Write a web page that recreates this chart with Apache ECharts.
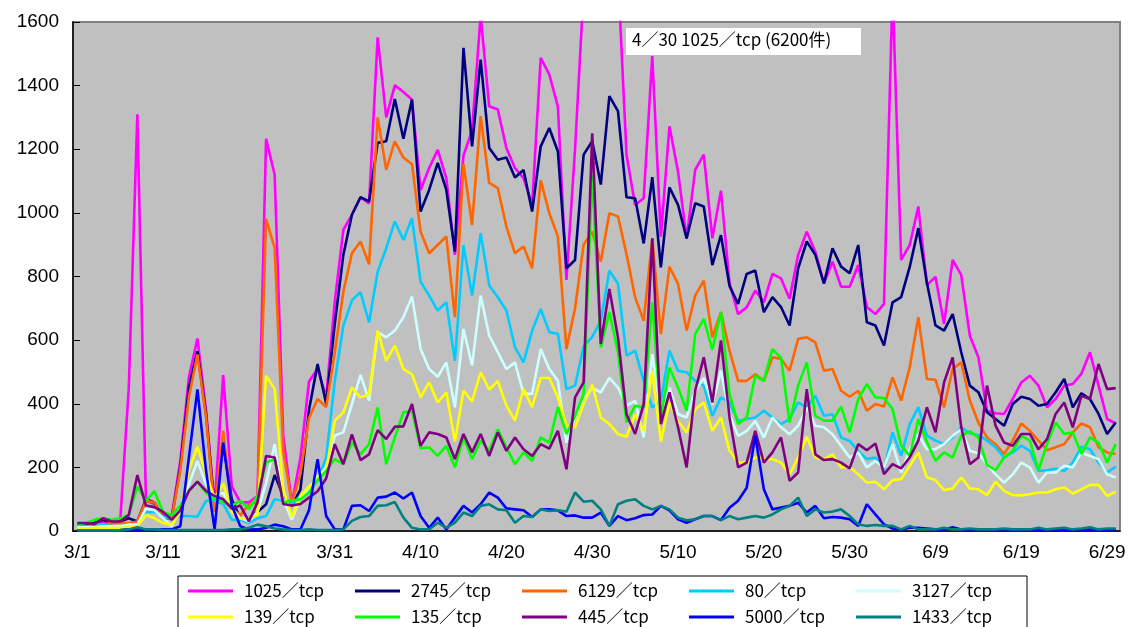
<!DOCTYPE html>
<html>
<head>
<meta charset="utf-8">
<script src="https://cdn.jsdelivr.net/npm/echarts@6/dist/echarts.min.js"></script>
<style>
  html, body { margin: 0; padding: 0; background: #fff; }
  #chart { width: 1131px; height: 627px; }
</style>
</head>
<body>
<div id="chart"></div>
<script>
// Daily counts per destination port, 3/1 – 6/30
const months = [[3, 31], [4, 30], [5, 31], [6, 30]];
const dates = [];
months.forEach(([m, n]) => { for (let d = 1; d <= n; d++) dates.push(m + '/' + d); });

const portNames = ['1025／tcp', '2745／tcp', '6129／tcp', '80／tcp', '3127／tcp',
                   '139／tcp', '135／tcp', '445／tcp', '5000／tcp', '1433／tcp'];

const tcp1025 = [
  20, 20, 25, 30, 25, 30, 450, 1310, 95, 85,
  50, 45, 220, 483, 605, 380, 80, 490, 140, 90,
  90, 110, 1233, 1120, 300, 85, 230, 470, 510, 420,
  720, 947, 994, 1049, 1030, 1552, 1300, 1401, 1380, 1356,
  1072, 1141, 1198, 1109, 868, 1180, 1260, 1620, 1335, 1325,
  1204, 1141, 1109, 1025, 1487, 1435, 1335, 789, 1200, 1700,
  6200, 2400, 1900, 1750, 1183, 1025, 1046, 1493, 925, 1272,
  1130, 920, 1135, 1183, 920, 1070, 780, 682, 703, 756,
  719, 808, 794, 730, 868, 941, 878, 778, 847, 768,
  768, 836, 704, 682, 714, 1700, 852, 899, 1020, 773,
  799, 651, 852, 805, 614, 546, 378, 370, 368, 415,
  467, 488, 457, 389, 415, 457, 462, 494, 562, 457,
  352, 338
];
const tcp2745 = [
  20, 20, 25, 35, 25, 30, 40, 30, 100, 90,
  40, 40, 200, 450, 565, 368, 70, 275, 100, 40,
  40, 60, 84, 176, 110, 80, 130, 380, 525, 400,
  650, 868, 994, 1049, 1036, 1220, 1225, 1358, 1233, 1356,
  1004, 1072, 1157, 1072, 878, 1519, 1209, 1482, 1204, 1167,
  1174, 1111, 1135, 1004, 1209, 1267, 1193, 826, 852, 1183,
  1225, 1089, 1367, 1320, 1049, 1046, 904, 1112, 829, 1080,
  1025, 920, 1030, 1020, 836, 930, 770, 714, 808, 819,
  688, 735, 704, 646, 826, 910, 868, 778, 889, 831,
  810, 899, 656, 646, 583, 719, 735, 830, 952, 780,
  646, 630, 682, 562, 457, 436, 373, 352, 331, 399,
  422, 415, 394, 399, 436, 478, 389, 433, 415, 368,
  305, 341
];
const tcp6129 = [
  15, 15, 20, 20, 25, 25, 25, 30, 95, 90,
  40, 40, 190, 420, 555, 360, 60, 315, 70, 50,
  84, 90, 981, 889, 250, 85, 180, 355, 415, 390,
  560, 752, 873, 910, 838, 1300, 1136, 1225, 1174, 1153,
  941, 873, 899, 926, 672, 1154, 962, 1304, 1094, 1078,
  957, 873, 894, 826, 1102, 999, 926, 572, 700, 900,
  941, 847, 999, 989, 870, 735, 661, 920, 619, 830,
  777, 630, 740, 787, 609, 688, 567, 472, 472, 493,
  472, 546, 541, 504, 604, 609, 593, 504, 509, 441,
  422, 441, 378, 399, 391, 483, 410, 515, 672, 478,
  475, 389, 509, 530, 410, 341, 294, 273, 242, 284,
  338, 315, 284, 254, 263, 273, 310, 338, 326, 263,
  247, 242
];
const tcp80 = [
  15, 15, 15, 20, 15, 15, 20, 20, 60, 60,
  45, 40, 47, 47, 45, 95, 95, 85, 35, 35,
  25, 40, 47, 100, 95, 85, 110, 130, 160, 230,
  470, 645, 725, 751, 656, 815, 889, 973, 915, 983,
  784, 740, 693, 719, 535, 899, 740, 936, 772, 735,
  693, 577, 530, 630, 698, 625, 620, 446, 457, 580,
  610, 661, 819, 777, 551, 567, 472, 388, 409, 567,
  504, 499, 472, 457, 362, 420, 404, 346, 352, 357,
  378, 357, 336, 352, 404, 388, 425, 362, 367, 294,
  283, 252, 226, 231, 194, 310, 236, 336, 389, 300,
  284, 273, 294, 326, 307, 302, 284, 263, 231, 247,
  268, 252, 189, 191, 196, 189, 215, 265, 257, 215,
  184, 202
];
const tcp3127 = [
  12, 12, 12, 15, 15, 15, 20, 20, 70, 65,
  40, 15, 70, 147, 220, 147, 110, 120, 70, 40,
  30, 60, 150, 273, 100, 35, 105, 135, 170, 200,
  300, 310, 399, 491, 410, 625, 609, 630, 672, 737,
  572, 509, 485, 530, 389, 635, 520, 740, 614, 562,
  509, 530, 431, 431, 572, 509, 472, 278, 357, 410,
  450, 436, 481, 451, 394, 409, 294, 556, 367, 451,
  367, 357, 441, 481, 399, 504, 367, 299, 315, 346,
  294, 357, 326, 304, 331, 388, 331, 326, 304, 268,
  231, 247, 200, 220, 200, 273, 184, 257, 304, 257,
  257, 273, 299, 320, 252, 244, 210, 178, 152, 178,
  215, 200, 152, 184, 184, 205, 200, 247, 236, 226,
  178, 168
];
const tcp139 = [
  8, 8, 10, 10, 10, 10, 12, 15, 50, 40,
  25, 20, 60, 190, 265, 180, 100, 150, 60, 40,
  40, 50, 488, 446, 130, 45, 110, 140, 165, 190,
  347, 373, 451, 420, 430, 630, 535, 583, 509, 493,
  420, 467, 404, 436, 281, 441, 407, 499, 444, 472,
  394, 347, 446, 389, 481, 481, 420, 331, 326, 400,
  460, 357, 336, 305, 296, 367, 315, 504, 281, 404,
  346, 310, 383, 404, 315, 357, 252, 215, 215, 231,
  226, 226, 215, 178, 231, 296, 231, 226, 241, 200,
  202, 178, 152, 155, 131, 160, 163, 205, 247, 168,
  160, 128, 134, 168, 134, 131, 113, 155, 126, 113,
  112, 116, 121, 121, 131, 137, 118, 131, 145, 145,
  110, 124
];
const tcp135 = [
  20, 25, 35, 40, 35, 40, 50, 139, 95, 125,
  60, 50, 80, 126, 155, 120, 100, 90, 80, 95,
  70, 110, 215, 226, 90, 95, 100, 120, 160, 189,
  226, 210, 278, 241, 273, 388, 210, 294, 373, 378,
  260, 263, 236, 268, 200, 294, 226, 284, 252, 320,
  263, 210, 247, 221, 294, 278, 389, 305, 362, 430,
  1120, 577, 688, 562, 341, 394, 388, 719, 357, 514,
  451, 378, 619, 667, 570, 688, 430, 336, 357, 488,
  472, 572, 544, 341, 457, 530, 362, 347, 347, 391,
  310, 415, 462, 420, 418, 383, 268, 236, 352, 280,
  221, 247, 231, 299, 313, 294, 208, 191, 231, 252,
  299, 284, 191, 273, 341, 305, 310, 242, 294, 278,
  215, 273
];
const tcp445 = [
  25, 25, 22, 40, 30, 30, 50, 176, 80, 75,
  60, 35, 65, 126, 155, 126, 110, 100, 70, 80,
  30, 90, 236, 231, 85, 80, 85, 105, 125, 165,
  273, 210, 304, 223, 241, 317, 289, 328, 329, 399,
  268, 310, 305, 294, 226, 305, 247, 305, 236, 310,
  252, 294, 257, 236, 273, 259, 315, 194, 420, 467,
  1250, 588, 761, 609, 367, 305, 399, 920, 336, 436,
  326, 200, 441, 546, 404, 599, 357, 200, 215, 315,
  215, 247, 294, 158, 184, 446, 241, 223, 226, 215,
  197, 273, 254, 275, 179, 210, 197, 231, 284, 389,
  310, 467, 546, 326, 210, 231, 457, 331, 278, 268,
  305, 305, 257, 289, 368, 404, 326, 425, 415, 525,
  446, 449
];
const tcp5000 = [
  2, 2, 2, 2, 2, 3, 5, 5, 5, 3,
  5, 5, 15, 230, 445, 190, 5, 278, 80, 15,
  5, 5, 10, 20, 15, 5, 5, 65, 226, 47,
  5, 5, 79, 81, 63, 105, 108, 121, 102, 121,
  47, 10, 42, 5, 42, 79, 58, 84, 121, 105,
  71, 68, 65, 44, 68, 68, 65, 47, 49, 42,
  42, 58, 16, 47, 34, 40, 50, 52, 79, 65,
  37, 26, 37, 47, 47, 34, 73, 95, 136, 299,
  131, 68, 74, 79, 89, 58, 79, 40, 44, 42,
  37, 16, 84, 52, 21, 8, 5, 10, 10, 8,
  5, 5, 12, 5, 5, 5, 3, 5, 5, 3,
  5, 5, 3, 5, 5, 3, 5, 5, 5, 3,
  5, 5
];
const tcp1433 = [
  2, 2, 2, 2, 2, 2, 5, 12, 5, 5,
  3, 3, 3, 3, 3, 3, 3, 3, 5, 5,
  10, 20, 15, 8, 5, 3, 3, 5, 3, 3,
  3, 5, 32, 44, 47, 79, 81, 91, 42, 10,
  5, 5, 26, 10, 26, 58, 47, 79, 84, 68,
  65, 26, 47, 44, 68, 63, 65, 61, 121, 92,
  95, 68, 16, 84, 95, 100, 79, 68, 79, 68,
  42, 34, 37, 47, 47, 34, 47, 37, 42, 47,
  42, 52, 68, 79, 105, 47, 68, 58, 61, 68,
  47, 21, 16, 19, 16, 16, 5, 16, 5, 5,
  5, 10, 5, 5, 8, 5, 5, 5, 8, 5,
  5, 5, 10, 5, 8, 10, 5, 8, 12, 5,
  8, 8
];

const seriesValues = [tcp1025, tcp2745, tcp6129, tcp80, tcp3127,
                      tcp139, tcp135, tcp445, tcp5000, tcp1433];
const seriesColors = ['#ff00ff', '#000080', '#ff6600', '#00ccff', '#ccffff',
                      '#ffff00', '#00ff00', '#800080', '#0000ff', '#008080'];

const yTicks = { min: 0, max: 1600, step: 200 };
const noteText = '4／30 1025／tcp (6200件)';

const FONT = '"Liberation Sans", Arial, "Noto Sans CJK JP", sans-serif';
const JP_FONT = '"Noto Sans CJK JP", "Liberation Sans", sans-serif';

const chart = echarts.init(document.getElementById('chart'), null, { renderer: 'canvas' });

chart.setOption({
  animation: false,
  backgroundColor: '#ffffff',
  grid: {
    left: 73, right: 11, top: 22, bottom: 96,
    show: true, backgroundColor: '#c0c0c0',
    borderColor: '#808080', borderWidth: 2
  },
  xAxis: {
    type: 'category',
    data: dates,
    boundaryGap: true,
    axisLine: { lineStyle: { color: '#000', width: 1.5 } },
    axisTick: { inside: true, length: 6, interval: 4, lineStyle: { color: '#000' } },
    axisLabel: { interval: 9, color: '#000', fontSize: 19, margin: 12, fontFamily: FONT },
    splitLine: { show: false }
  },
  yAxis: {
    type: 'value',
    min: yTicks.min, max: yTicks.max, interval: yTicks.step,
    axisLine: { show: true, lineStyle: { color: '#000', width: 1.5 } },
    axisTick: { show: true, inside: true, length: 7, lineStyle: { color: '#000' } },
    axisLabel: { color: '#000', fontSize: 19, margin: 14, fontFamily: FONT, formatter: v => String(v) },
    splitLine: { show: false }
  },
  legend: {
    left: 178, top: 576,
    width: 835,
    orient: 'horizontal',
    padding: [5, 10, 12, 10],
    icon: 'rect',
    itemWidth: 45, itemHeight: 3, itemGap: 6,
    backgroundColor: '#ffffff', borderColor: '#000', borderWidth: 1,
    textStyle: {
      color: '#000', fontSize: 17, width: 105, lineHeight: 20,
      padding: [0, 0, 0, 6], fontFamily: JP_FONT
    },
    data: portNames
  },
  graphic: [{
    type: 'group', left: 626, top: 28,
    children: [
      { type: 'rect', shape: { x: 0, y: 0, width: 235, height: 27 }, style: { fill: '#ffffff' } },
      { type: 'text', x: 6, y: 3, style: { text: noteText, fill: '#000', font: '17px ' + JP_FONT } }
    ]
  }],
  series: seriesValues.map((vals, k) => ({
    name: portNames[k],
    type: 'line',
    data: vals,
    symbol: 'none',
    clip: true,
    color: seriesColors[k],
    lineStyle: { width: 2.6, color: seriesColors[k] }
  }))
});
</script>
</body>
</html>
